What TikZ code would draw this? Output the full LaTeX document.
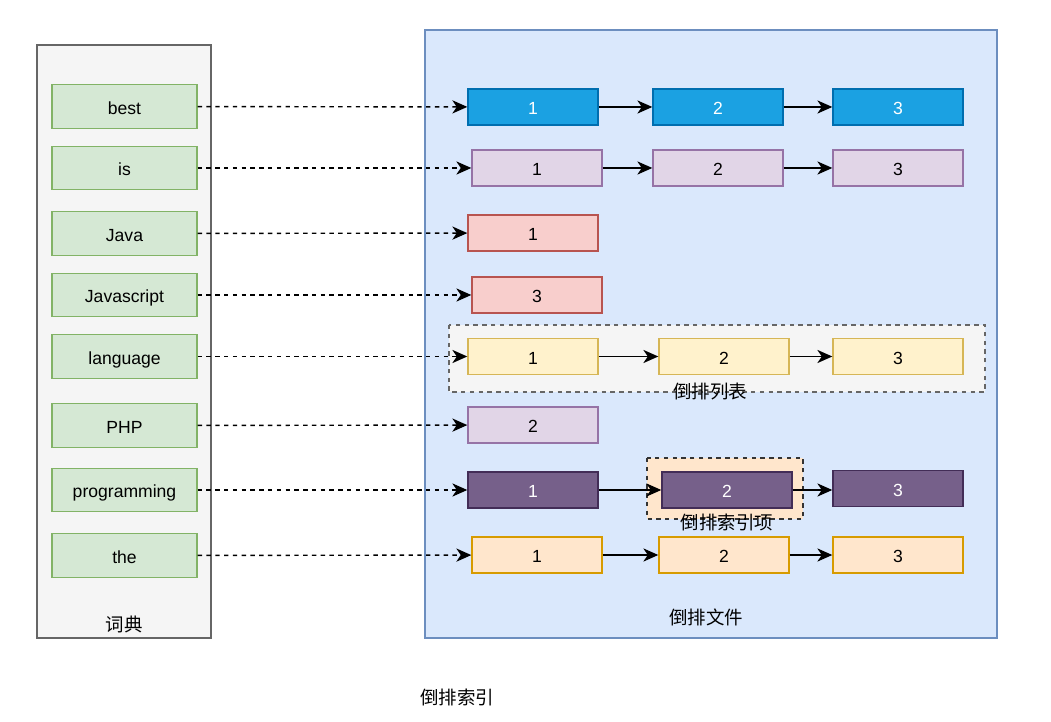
\documentclass[tikz,border=0pt]{standalone}
\usepackage{fontspec}
\setmainfont{Liberation Sans}
\newfontfamily\cjk{Noto Sans CJK SC}
\usetikzlibrary{arrows.meta,positioning}
\definecolor{dgreenfill}{HTML}{D5E8D4}
\definecolor{dgreenline}{HTML}{82B366}
\definecolor{dgrayfill}{HTML}{F5F5F5}
\definecolor{dgrayline}{HTML}{666666}
\definecolor{dbluefill}{HTML}{DAE8FC}
\definecolor{dblueline}{HTML}{6C8EBF}
\definecolor{cyanfill}{HTML}{1BA1E2}
\definecolor{cyanline}{HTML}{006EAF}
\definecolor{lilacfill}{HTML}{E1D5E7}
\definecolor{lilacline}{HTML}{9673A6}
\definecolor{rosefill}{HTML}{F8CECC}
\definecolor{roseline}{HTML}{B85450}
\definecolor{creamfill}{HTML}{FFF2CC}
\definecolor{creamline}{HTML}{D6B656}
\definecolor{plumfill}{HTML}{76608A}
\definecolor{plumline}{HTML}{432D57}
\definecolor{peachfill}{HTML}{FFE6CC}
\definecolor{peachline}{HTML}{D79B00}
\tikzset{
  word/.style={draw=dgreenline, fill=dgreenfill, line width=0.8pt, font=\fontsize{10}{12}\selectfont,
               minimum width=2.9cm, minimum height=0.87cm, inner sep=0pt,
               text height=0.9em, text depth=0.02em},
  post/.style={draw=#1line, fill=#1fill, line width=0.8pt, font=\fontsize{10}{12}\selectfont,
               minimum width=2.6cm, minimum height=0.72cm, inner sep=0pt,
               text height=0.9em, text depth=0.02em},
  lookup/.style={dash pattern=on 2.5pt off 2.5pt, line width=0.8pt,
                 -{Stealth[length=8.5pt, width=7.5pt, inset=2.5pt]}},
  link/.style={line width=0.8pt, -{Stealth[length=8.5pt, width=7.5pt, inset=2.5pt]}},
  caption/.style={font=\cjk\fontsize{10.5}{12}\selectfont, inner sep=1pt},
}
\begin{document}
\begin{tikzpicture}[x=0.02cm, y=-0.02cm]

  \useasboundingbox (0,0) rectangle (1051,722);

  % containers
  \draw[draw=dblueline, fill=dbluefill, line width=0.8pt] (425,30) rectangle (997,638);
  \draw[draw=dgrayline, fill=dgrayfill, line width=0.8pt] (37,45) rectangle (211,638);
  \draw[draw=dgrayline, fill=dgrayfill, line width=0.8pt, dash pattern=on 2.5pt off 2.5pt]
       (449,325) rectangle (985,392);
  \draw[draw=black!80, fill=peachfill, line width=0.8pt, dash pattern=on 2.5pt off 2.5pt]
       (647,458) rectangle (803,519);

  \node[caption] (dictlabel) at (124,624) {词典};
  \node[caption] (filelabel) at (706,617) {倒排文件};
  \node[caption] (listlabel) at (710,392) {倒排列表};
  \node[caption] (itemlabel) at (727,522) {倒排索引项};
  \node[caption] (indexlabel) at (457,697) {倒排索引};

  % dictionary
  \node[word] (w-best) at (124.5,106.5) {best};
  \node[word] (w-is) at (124.5,168) {is};
  \node[word] (w-java) at (124.5,233.5) {Java};
  \node[word] (w-js) at (124.5,295) {Javascript};
  \node[word] (w-lang) at (124.5,356.5) {language};
  \node[word] (w-php) at (124.5,425.5) {PHP};
  \node[word] (w-prog) at (124.5,490) {programming};
  \node[word] (w-the) at (124.5,555.5) {the};

  % posting lists
  \node[post=cyan, text=white] (best1) at (533,107) {1};
  \node[post=cyan, text=white] (best2) at (718,107) {2};
  \node[post=cyan, text=white] (best3) at (898,107) {3};

  \node[post=lilac] (is1) at (537,168) {1};
  \node[post=lilac] (is2) at (718,168) {2};
  \node[post=lilac] (is3) at (898,168) {3};

  \node[post=rose] (java1) at (533,233) {1};
  \node[post=rose] (js1) at (537,295) {3};

  \node[post=cream] (lang1) at (533,356.5) {1};
  \node[post=cream] (lang2) at (724,356.5) {2};
  \node[post=cream] (lang3) at (898,356.5) {3};

  \node[post=lilac] (php1) at (533,425) {2};

  \node[post=plum, text=white] (prog1) at (533,490) {1};
  \node[post=plum, text=white] (prog2) at (727,490) {2};
  \node[post=plum, text=white] (prog3) at (898,488.5) {3};

  \node[post=peach] (the1) at (537,555) {1};
  \node[post=peach] (the2) at (724,555) {2};
  \node[post=peach] (the3) at (898,555) {3};

  % dictionary lookups
  \draw[lookup] (w-best) -- (best1);
  \draw[lookup] (w-is) -- (is1);
  \draw[lookup] (w-java) -- (java1);
  \draw[lookup] (w-js) -- (js1);
  \draw[lookup] (w-lang) -- (lang1);
  \draw[lookup] (w-php) -- (php1);
  \draw[lookup] (w-prog) -- (prog1);
  \draw[lookup] (w-the) -- (the1);

  % next pointers
  \draw[link] (best1) -- (best2);
  \draw[link] (best2) -- (best3);
  \draw[link] (is1) -- (is2);
  \draw[link] (is2) -- (is3);
  \draw[link] (lang1) -- (lang2);
  \draw[link] (lang2) -- (lang3);
  \draw[link] (prog1) -- (prog2);
  \draw[link] (prog2.east) -- (prog3.west |- prog2.east);
  \draw[link] (the1) -- (the2);
  \draw[link] (the2) -- (the3);

\end{tikzpicture}
\end{document}
